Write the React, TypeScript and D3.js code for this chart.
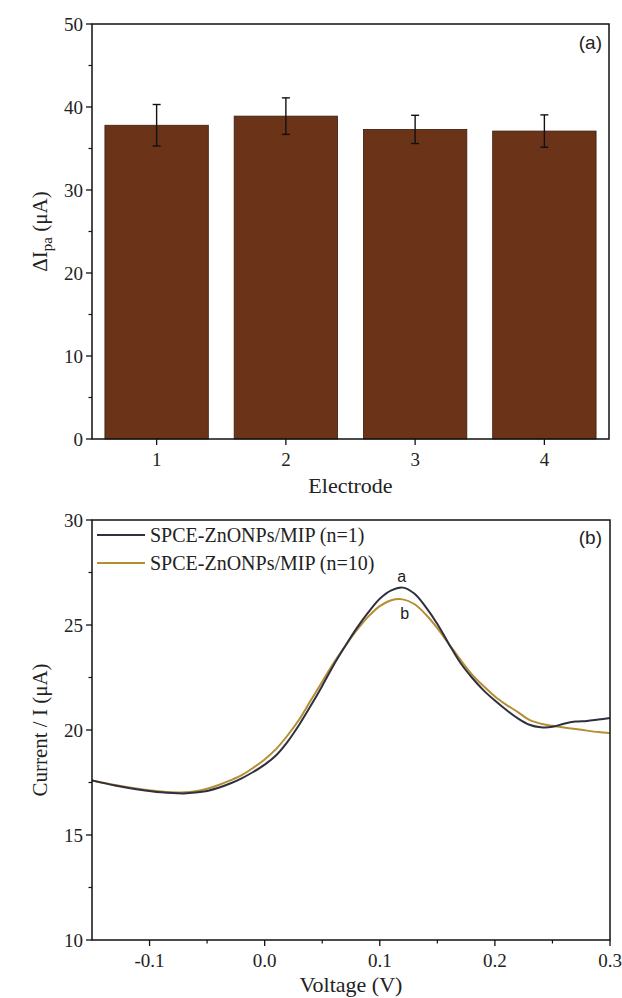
import React from "react";
import * as d3 from "d3";

const electrodes = ["1", "2", "3", "4"];
const meanCurrent = [37.8, 38.9, 37.3, 37.1];
const errCurrent = [2.5, 2.2, 1.7, 1.95];
const barTicks = [0, 10, 20, 30, 40, 50];

const voltage = [
  -0.15, -0.13, -0.11, -0.09, -0.07, -0.06, -0.05, -0.04, -0.03, -0.02, -0.01,
  0.0, 0.01, 0.02, 0.03, 0.04, 0.05, 0.06, 0.07, 0.08, 0.09, 0.1, 0.11, 0.12,
  0.13, 0.14, 0.15, 0.16, 0.17, 0.18, 0.19, 0.2, 0.21, 0.22, 0.23, 0.24, 0.25,
  0.26, 0.27, 0.28, 0.29, 0.3,
];
const currentN1 = [
  17.6, 17.36, 17.17, 17.03, 16.98, 17.02, 17.1, 17.25, 17.45, 17.7, 18.0,
  18.35, 18.8, 19.45, 20.25, 21.15, 22.1, 23.1, 24.0, 24.85, 25.6, 26.25, 26.65,
  26.78, 26.5, 25.85, 25.05, 24.1, 23.2, 22.5, 21.9, 21.4, 20.95, 20.55, 20.25,
  20.13, 20.15, 20.3, 20.4, 20.43, 20.5, 20.57,
];
const currentN10 = [
  17.6, 17.38, 17.2, 17.07, 17.03, 17.08, 17.2, 17.38, 17.6, 17.85, 18.2, 18.6,
  19.1, 19.75, 20.5, 21.4, 22.3, 23.2, 24.0, 24.75, 25.4, 25.9, 26.18, 26.22,
  26.0, 25.5, 24.85, 24.1, 23.35, 22.65, 22.1, 21.6, 21.2, 20.85, 20.48, 20.3,
  20.2, 20.12, 20.05, 19.97, 19.9, 19.85,
];
const vTicks = [-0.1, 0.0, 0.1, 0.2, 0.3];
const vTickLabels = ["-0.1", "0.0", "0.1", "0.2", "0.3"];
const vMinor = [-0.05, 0.05, 0.15, 0.25];
const iTicks = [10, 15, 20, 25, 30];
const iMinor = [12.5, 17.5, 22.5, 27.5];
const seriesNames = ["SPCE-ZnONPs/MIP (n=1)", "SPCE-ZnONPs/MIP (n=10)"];

const W = 622;
const H = 998;
const SERIF = "'Liberation Serif', 'DejaVu Serif', serif";
const SANS = "'Liberation Sans', Arial, sans-serif";
const BAR = "#6b3418";
const C1 = "#2e3040";
const C2 = "#b58e32";

export default function App() {
  const L = 92, R = 609;
  const tTop = 24, tBot = 439;
  const xb = d3.scaleBand<string>().domain(electrodes).range([L, R]).paddingInner(0.2).paddingOuter(0.1);
  const yb = d3.scaleLinear().domain([0, 50]).range([tBot, tTop]);
  const barMinor = [5, 15, 25, 35, 45];

  const bTop = 520, bBot = 940;
  const xv = d3.scaleLinear().domain([-0.15, 0.3]).range([L, 610]);
  const yv = d3.scaleLinear().domain([10, 30]).range([bBot, bTop]);
  const line = d3
    .line<[number, number]>()
    .x((d) => xv(d[0]))
    .y((d) => yv(d[1]))
    .curve(d3.curveCatmullRom.alpha(0.5));
  const d1 = line(voltage.map((v, i) => [v, currentN1[i]] as [number, number])) || "";
  const d2 = line(voltage.map((v, i) => [v, currentN10[i]] as [number, number])) || "";
  const peakV1 = voltage[currentN1.indexOf(d3.max(currentN1) as number)];
  const peakV2 = voltage[currentN10.indexOf(d3.max(currentN10) as number)];

  const fs = 19;

  return (
    <svg
      width={W}
      height={H}
      viewBox={`0 0 ${W} ${H}`}
      style={{ position: "absolute", left: 0, top: 0, background: "#ffffff" }}
    >
      <rect x={0} y={0} width={W} height={H} fill="#ffffff" />
      {/* ===== TOP CHART ===== */}
      <g>
        {meanCurrent.map((v, i) => (
          <rect
            key={i}
            x={xb(electrodes[i])}
            y={yb(v)}
            width={xb.bandwidth()}
            height={yb(0) - yb(v)}
            fill={BAR}
            stroke="#3a1c0c"
            strokeWidth={0.8}
          />
        ))}
        {meanCurrent.map((v, i) => {
          const cx = (xb(electrodes[i]) as number) + xb.bandwidth() / 2;
          const lo = yb(v - errCurrent[i]);
          const hi = yb(v + errCurrent[i]);
          return (
            <g key={i} stroke="#111" strokeWidth={1.4}>
              <line x1={cx} x2={cx} y1={lo} y2={hi} />
              <line x1={cx - 4} x2={cx + 4} y1={hi} y2={hi} />
              <line x1={cx - 4} x2={cx + 4} y1={lo} y2={lo} />
            </g>
          );
        })}
        <rect x={L} y={tTop} width={R - L} height={tBot - tTop} fill="none" stroke="#111" strokeWidth={1.5} />
        {barTicks.map((t) => (
          <g key={t}>
            <line x1={L - 6} x2={L} y1={yb(t)} y2={yb(t)} stroke="#111" strokeWidth={1.3} />
            <text x={L - 9} y={yb(t)} dy="0.35em" textAnchor="end" fontFamily={SERIF} fontSize={fs} fill="#222">
              {t}
            </text>
          </g>
        ))}
        {barMinor.map((t) => (
          <line key={t} x1={L - 3.5} x2={L} y1={yb(t)} y2={yb(t)} stroke="#111" strokeWidth={1.2} />
        ))}
        {electrodes.map((e) => {
          const cx = (xb(e) as number) + xb.bandwidth() / 2;
          return (
            <g key={e}>
              <line x1={cx} x2={cx} y1={tBot} y2={tBot + 6} stroke="#111" strokeWidth={1.3} />
              <text x={cx} y={tBot + 27} textAnchor="middle" fontFamily={SERIF} fontSize={fs} fill="#222">
                {e}
              </text>
            </g>
          );
        })}
        <text x={(L + R) / 2} y={493} textAnchor="middle" fontFamily={SERIF} fontSize={22} fill="#222">
          Electrode
        </text>
        <text
          transform={`translate(47, ${(tTop + tBot) / 2}) rotate(-90)`}
          textAnchor="middle"
          fontFamily={SERIF}
          fontSize={21}
          fill="#222"
        >
          ΔI
          <tspan fontSize={15} dy={5}>pa</tspan>
          <tspan dy={-5}> (μA)</tspan>
        </text>
        <text x={602} y={49} textAnchor="end" fontFamily={SANS} fontSize={19} fill="#222">
          (a)
        </text>
      </g>

      {/* ===== BOTTOM CHART ===== */}
      <g>
        <path d={d2} fill="none" stroke={C2} strokeWidth={2} />
        <path d={d1} fill="none" stroke={C1} strokeWidth={2} />
        <rect x={L} y={bTop} width={610 - L} height={bBot - bTop} fill="none" stroke="#111" strokeWidth={1.5} />
        {iTicks.map((t) => (
          <g key={t}>
            <line x1={L - 6} x2={L} y1={yv(t)} y2={yv(t)} stroke="#111" strokeWidth={1.3} />
            <text x={L - 9} y={yv(t)} dy="0.35em" textAnchor="end" fontFamily={SERIF} fontSize={fs} fill="#222">
              {t}
            </text>
          </g>
        ))}
        {iMinor.map((t) => (
          <line key={t} x1={L - 3.5} x2={L} y1={yv(t)} y2={yv(t)} stroke="#111" strokeWidth={1.2} />
        ))}
        {vTicks.map((t, i) => (
          <g key={t}>
            <line x1={xv(t)} x2={xv(t)} y1={bBot} y2={bBot + 6} stroke="#111" strokeWidth={1.3} />
            <text x={xv(t)} y={bBot + 27} textAnchor="middle" fontFamily={SERIF} fontSize={fs} fill="#222">
              {vTickLabels[i]}
            </text>
          </g>
        ))}
        {vMinor.map((t) => (
          <line key={t} x1={xv(t)} x2={xv(t)} y1={bBot} y2={bBot + 3.5} stroke="#111" strokeWidth={1.2} />
        ))}
        <text x={(L + 610) / 2} y={992} textAnchor="middle" fontFamily={SERIF} fontSize={22} fill="#222">
          Voltage (V)
        </text>
        <text
          transform={`translate(47, ${(bTop + bBot) / 2}) rotate(-90)`}
          textAnchor="middle"
          fontFamily={SERIF}
          fontSize={21}
          fill="#222"
        >
          Current / I (μA)
        </text>
        <text x={602} y={544} textAnchor="end" fontFamily={SANS} fontSize={19} fill="#222">
          (b)
        </text>
        {seriesNames.map((n, i) => (
          <g key={n}>
            <line x1={97} x2={145} y1={535 + i * 28} y2={535 + i * 28} stroke={i === 0 ? C1 : C2} strokeWidth={2} />
            <text x={150} y={535 + i * 28} dy="0.35em" fontFamily={SERIF} fontSize={20} fill="#222">
              {n}
            </text>
          </g>
        ))}
        <text x={xv(peakV1) - 1} y={yv(d3.max(currentN1) as number) - 6} textAnchor="middle" fontFamily={SANS} fontSize={16} fill="#222">
          a
        </text>
        <text x={xv(peakV2) + 2} y={yv(d3.max(currentN10) as number) + 20} textAnchor="middle" fontFamily={SANS} fontSize={16} fill="#222">
          b
        </text>
      </g>
    </svg>
  );
}
